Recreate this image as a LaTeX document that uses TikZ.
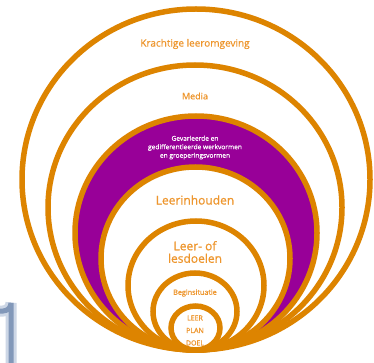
\documentclass[tikz,border=0pt]{standalone}
\usepackage{fontspec}
\setmainfont{Open Sans}[FakeBold=0.6]
\newfontfamily\boldish{Open Sans}[FakeBold=1.2]
\definecolor{ring}{RGB}{221,132,0}
\definecolor{txt}{RGB}{238,150,45}
\definecolor{purp}{RGB}{152,0,152}
\definecolor{bluegrey}{RGB}{130,152,185}
\definecolor{bluehalo}{RGB}{205,215,230}
\begin{document}
\begin{tikzpicture}[x=1pt,y=-1pt,
  ringline/.style={draw=ring,line width=5.5pt},
  lab/.style={text=txt,inner sep=0pt,align=center}]
\useasboundingbox (0,0) rectangle (374,363);
\fill[white] (0,0) rectangle (374,363);
% faint blue-grey fragment at lower left
\draw[bluehalo,line width=11pt] (0,311) -- (3,311) arc[start angle=90,end angle=0,radius=8] -- (11,363);
\draw[bluegrey,line width=5pt] (0,311) -- (3,311) arc[start angle=90,end angle=0,radius=8] -- (11,363);
% nested rings, all touching at the bottom
\draw[ringline,fill=white] (196,179.5) ellipse[x radius=174,y radius=170.5];
\draw[ringline,fill=white] (195,207.5) ellipse[x radius=147,y radius=142.5];
\draw[ringline,fill=purp]  (196,233)   ellipse[x radius=121,y radius=117];
\draw[ringline,fill=white] (195.5,258.5) ellipse[x radius=94.5,y radius=91.5];
\draw[ringline,fill=white] (196,285.5) ellipse[x radius=68,y radius=64.5];
\draw[ringline,fill=white] (195,311.5) ellipse[x radius=42,y radius=38.5];
\draw[ringline,fill=white] (195.5,328) ellipse[x radius=24.5,y radius=22];
% labels
\node[lab,font=\fontsize{10}{11}\selectfont] (k) at (195,44) {Krachtige leeromgeving};
\node[lab,font=\fontsize{9}{10}\selectfont] (m) at (195,96) {Media};
\node[lab,text=white,font=\fontsize{6.6}{8.5}\selectfont] (w) at (195,147.5) {Gevarieerde en\\gedifferentieerde werkvormen\\en groeperingsvormen};
\node[lab,font=\fontsize{12}{13}\selectfont] (li) at (195,200) {Leerinhouden};
\node[lab,font=\fontsize{12}{12.5}\selectfont] (ld) at (195,252) {Leer- of\\lesdoelen};
\node[lab,font=\boldish\fontsize{7.2}{8}\selectfont] (b) at (195,293) {Beginsituatie};
\node[lab,font=\boldish\fontsize{7}{12.5}\selectfont] (lpd) at (195,330.5) {LEER\\PLAN\\DOEL};
\end{tikzpicture}
\end{document}
